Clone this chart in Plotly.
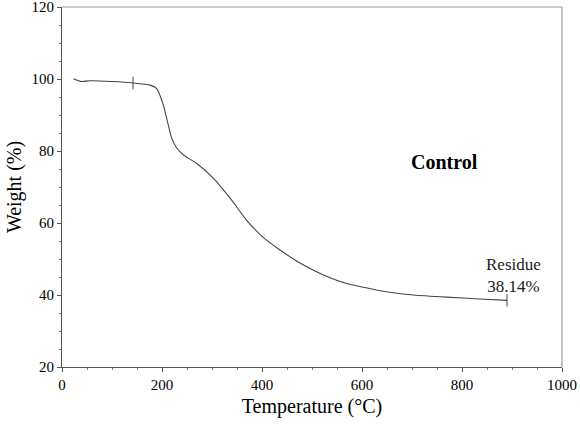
import plotly.graph_objects as go

# TGA curve
temp = [23, 39, 56, 100, 142, 176, 189, 202, 209, 219, 229, 243, 269, 303,
        339, 369, 400, 436, 470, 503, 536, 569, 600, 636, 670, 703, 769, 836, 890]
weight = [100.1, 99.3, 99.5, 99.3, 98.9, 98.3, 97.4, 93.1, 89.3, 83.7, 80.9,
          78.9, 76.6, 72.4, 66.4, 60.8, 56.3, 52.5, 49.4, 46.9, 44.8, 43.2,
          42.2, 41.2, 40.5, 40.0, 39.4, 38.9, 38.5]

# small vertical cursor marks on the curve
mark_t = [142, 890]
mark_w = [98.9, 38.5]

residue_text = "Residue<br>38.14%"
sample_name = "Control"

serif = '"Liberation Serif", "Times New Roman", Times, serif'

fig = go.Figure()

fig.add_trace(go.Scatter(
    x=temp, y=weight, mode='lines',
    line=dict(color='#444444', width=1.1, shape='spline', smoothing=0.6),
    hoverinfo='skip'
))

fig.add_trace(go.Scatter(
    x=mark_t, y=mark_w, mode='markers',
    marker=dict(symbol='line-ns', size=9, line=dict(color='#444444', width=1)),
    hoverinfo='skip'
))

fig.add_annotation(x=765, y=77.0, text="<b>" + sample_name + "</b>", showarrow=False,
                   font=dict(family=serif, size=20, color='black'))
fig.add_annotation(x=902, y=45.5, text=residue_text, showarrow=False,
                   font=dict(family=serif, size=17, color='#222222'))

# lighter top and right frame edges
fig.add_shape(type='line', xref='paper', yref='paper', x0=0, x1=1, y0=1, y1=1,
              line=dict(color='#999999', width=1.2))
fig.add_shape(type='line', xref='paper', yref='paper', x0=1, x1=1, y0=0, y1=1,
              line=dict(color='#999999', width=1.2))

axis_font = dict(family=serif, size=15, color='black')

fig.update_layout(
    template='none',
    width=580, height=425,
    margin=dict(l=62, r=18, t=7, b=58),
    paper_bgcolor='white', plot_bgcolor='white',
    showlegend=False,
    font=axis_font,
    xaxis=dict(
        range=[0, 1000], dtick=200, showgrid=False, zeroline=False, automargin=False,
        showline=True, linecolor='#555555', linewidth=1.2,
        ticks='outside', ticklen=4, tickcolor='#555555', ticklabeloverflow='allow',
        minor=dict(dtick=50, ticks='outside', ticklen=2, tickcolor='#777777'),
        title=dict(text='Temperature (°C)', font=dict(family=serif, size=20),
                   standoff=6),
        tickfont=axis_font,
    ),
    yaxis=dict(
        range=[20, 120], dtick=20, showgrid=False, zeroline=False, automargin=False,
        showline=True, linecolor='#555555', linewidth=1.2,
        ticks='outside', ticklen=4, tickcolor='#555555', ticklabeloverflow='allow',
        minor=dict(dtick=5, ticks='outside', ticklen=2, tickcolor='#777777'),
        title=dict(text='Weight (%)', font=dict(family=serif, size=20),
                   standoff=4),
        tickfont=axis_font,
    ),
)

# drop the default page margin so the figure sits at the window corner
fig.write_html("out.html", config={'displayModeBar': False},
               post_script="document.body.style.margin='0';")
